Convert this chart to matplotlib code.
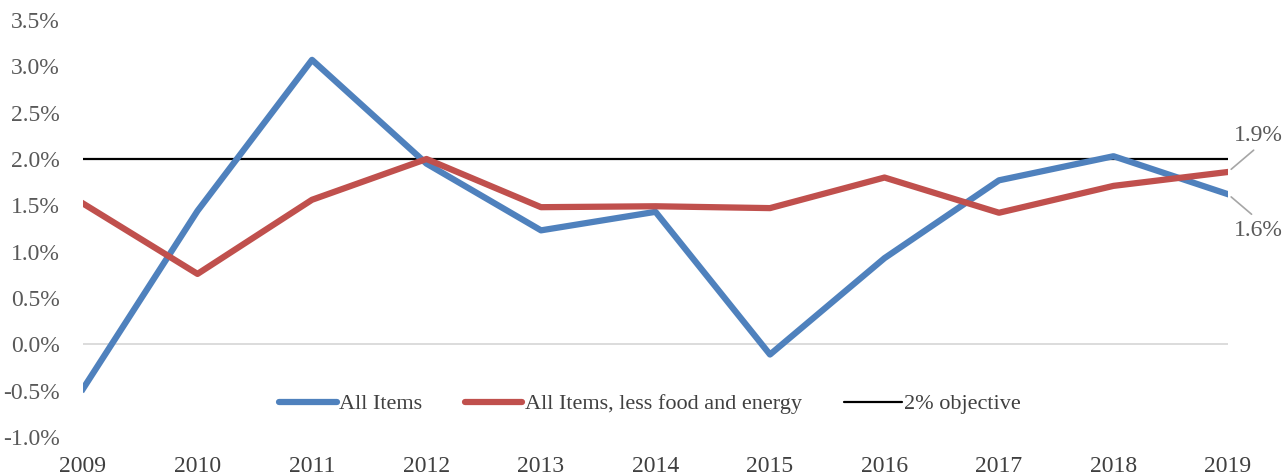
import matplotlib
matplotlib.use("Agg")
import matplotlib.pyplot as plt
from matplotlib.ticker import FuncFormatter

years = [2009, 2010, 2011, 2012, 2013, 2014, 2015, 2016, 2017, 2018, 2019]
all_items = [-0.48, 1.44, 3.07, 1.95, 1.23, 1.43, -0.11, 0.93, 1.77, 2.03, 1.62]
core = [1.52, 0.76, 1.56, 2.00, 1.48, 1.49, 1.47, 1.80, 1.42, 1.71, 1.86]
objective = [2.0] * len(years)
yticks = [-1.0, -0.5, 0.0, 0.5, 1.0, 1.5, 2.0, 2.5, 3.0, 3.5]
end_labels = ["1.9%", "1.6%"]

plt.rcParams['font.family'] = ['Liberation Serif', 'DejaVu Serif']

BLUE = "#4F81BD"
RED = "#C0504D"
TXT = "#595959"

fig = plt.figure(figsize=(12.87, 4.76), dpi=100)
ax = fig.add_axes([83/1287, 1-437/476, (1228-83)/1287, (437-20)/476])

ax.axhline(0, color="#D9D9D9", lw=1.3, zorder=1)
ax.plot(years, all_items, color=BLUE, lw=4.5, label="All Items", zorder=3)
ax.plot(years, core, color=RED, lw=4.5, label="All Items, less food and energy", zorder=3)
ax.plot(years, objective, color="black", lw=1.6, label="2% objective", zorder=2)

ax.set_xlim(years[0], years[-1])
ax.set_ylim(yticks[0], yticks[-1])
ax.set_xticks(years)
ax.set_yticks(yticks)
ax.yaxis.set_major_formatter(FuncFormatter(lambda v, p: f"{v:.1f}%"))
ax.tick_params(length=0, labelsize=17, colors=TXT)
ax.tick_params(axis='x', pad=14, labelcolor="#404040")
ax.tick_params(axis='y', pad=17)
for s in ax.spines.values():
    s.set_visible(False)

ax.annotate(end_labels[0], xy=(years[-1], core[-1]), xytext=(30, 36),
            textcoords='offset pixels', ha='center', va='center', fontsize=17,
            color=TXT, annotation_clip=False,
            arrowprops=dict(arrowstyle='-', color="#A6A6A6", lw=1.2,
                            shrinkA=1, shrinkB=3, relpos=(0.5, 0.0)))
ax.annotate(end_labels[1], xy=(years[-1], all_items[-1]), xytext=(30, -36),
            textcoords='offset pixels', ha='center', va='center', fontsize=17,
            color=TXT, annotation_clip=False,
            arrowprops=dict(arrowstyle='-', color="#A6A6A6", lw=1.2,
                            shrinkA=3, shrinkB=3, relpos=(0.5, 1.0)))

leg = fig.legend(loc='center', bbox_to_anchor=(650/1287, 1-404/476), ncol=3,
                 frameon=False, fontsize=16, handlelength=2.6, handletextpad=0.1,
                 columnspacing=1.9)
for t in leg.get_texts():
    t.set_color("#404040")
for h in leg.get_lines():
    h.set_solid_capstyle('round')

fig.savefig("out.png", dpi=100)
